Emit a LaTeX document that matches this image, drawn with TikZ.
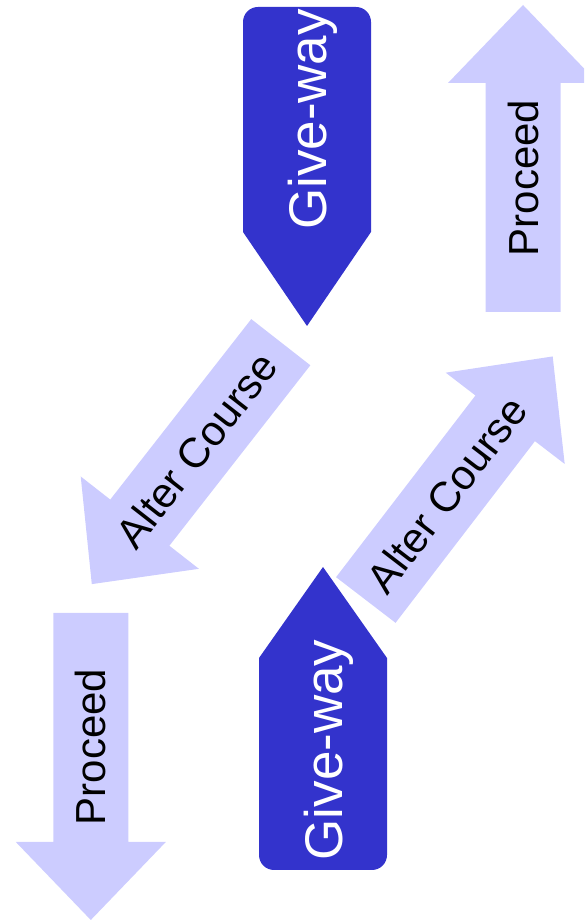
\documentclass[tikz,border=0pt]{standalone}
\usepackage{fontspec}
\setmainfont{Liberation Sans}
\usepackage{tikz}
\definecolor{gwblue}{HTML}{3333CC}
\definecolor{pcblue}{HTML}{CCCCFF}

\begin{document}
\begin{tikzpicture} [x=1pt, y=1pt]
\tikzstyle{giveway}=[fill=gwblue];
\tikzstyle{proceed}=[fill=pcblue];
\tikzstyle{gwtext}=[text=white, font=\fontsize{53}{60}\selectfont, rotate=90, anchor=base, inner sep=0pt];
\tikzstyle{lbl}=[font=\fontsize{42}{50}\selectfont, anchor=base, inner sep=0pt];
\useasboundingbox (0,0) rectangle (584,920);
\clip (0,0) rectangle (584,920);
% give-way, top (down)
\fill [giveway] (307,594) -- (243,688) -- (243,898) arc [start angle=180, end angle=90, radius=15]
  -- (356,913) arc [start angle=90, end angle=0, radius=15] -- (371,688) -- cycle;
\node [gwtext] (g1) at (326,800.5) {Give-way};
% give-way, bottom (up)
\fill [giveway] (323,353) -- (387,262) -- (387,65) arc [start angle=0, end angle=-90, radius=15]
  -- (274,50) arc [start angle=270, end angle=180, radius=15] -- (259,262) -- cycle;
\node [gwtext] (g2) at (342,170) {Give-way};
% proceed, top right (up)
\begin{scope} [shift={(523,608)}, rotate=90, transform shape]
\fill [proceed] (0,-37.5) -- (229,-37.5) -- (229,-75) -- (307,0) -- (229,75) -- (229,37.5) -- (0,37.5) -- cycle;
\node [lbl] (p1) at (134,-15) {Proceed};
\end{scope}
% proceed, bottom left (down)
\begin{scope} [shift={(90.8,307)}, rotate=90, transform shape]
\fill [proceed] (0,-37.5) -- (-229,-37.5) -- (-229,-75) -- (-307,0) -- (-229,75) -- (-229,37.5) -- (0,37.5) -- cycle;
\node [lbl] (p2) at (-134,-15) {Proceed};
\end{scope}
% alter course, left (down-left)
\begin{scope} [shift={(280.8,577.8)}, rotate=52, transform shape]
\fill [proceed] (0,-37.5) -- (-229,-37.5) -- (-229,-75) -- (-307,0) -- (-229,75) -- (-229,37.5) -- (0,37.5) -- cycle;
\node [lbl] (c1) at (-137,-15) {Alter Course};
\end{scope}
% alter course, right (up-right)
\begin{scope} [shift={(365.8,320)}, rotate=52.5, transform shape]
\fill [proceed] (0,-37.5) -- (229,-37.5) -- (229,-75) -- (307,0) -- (229,75) -- (229,37.5) -- (0,37.5) -- cycle;
\node [lbl] (c2) at (133,-15) {Alter Course};
\end{scope}
\end{tikzpicture}
\end{document}
